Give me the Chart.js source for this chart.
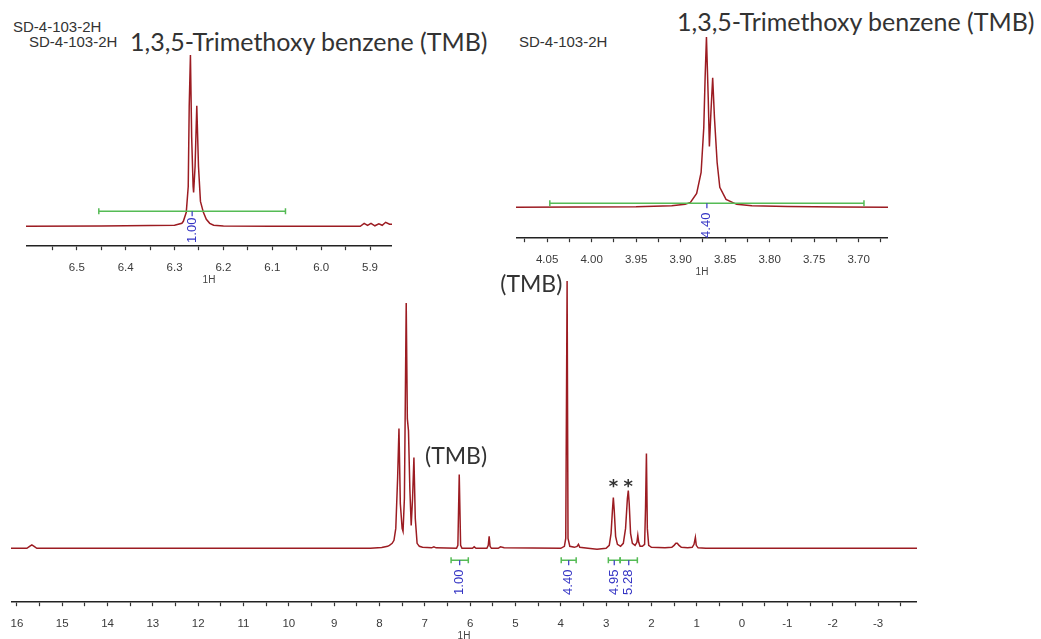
<!DOCTYPE html>
<html>
<head>
<meta charset="utf-8">
<script src="https://cdn.jsdelivr.net/npm/chart.js@4/dist/chart.umd.min.js"></script>
<style>
  html, body { margin: 0; padding: 0; background: #fff; overflow: hidden; }
  body { width: 1041px; height: 639px; position: relative; }
  canvas { position: absolute; }
  .lbl { position: absolute; white-space: nowrap; color: #333; }
  .sd { font-family: "Liberation Sans Narrow", "Liberation Sans", Arial, sans-serif; font-size: 15px; line-height: 15px; color: #333; }
  .ttl { font-family: Lato, "Open Sans", sans-serif; font-size: 25px; line-height: 25px; color: #333; }
</style>
</head>
<body>
<div class="lbl sd" style="left:13px; top:19px;">SD-4-103-2H</div>
<div class="lbl sd" style="left:29px; top:34px;">SD-4-103-2H</div>
<div class="lbl ttl" style="left:130px; top:29px;">1,3,5-Trimethoxy benzene (TMB)</div>
<div class="lbl sd" style="left:519px; top:34px;">SD-4-103-2H</div>
<div class="lbl ttl" style="left:677px; top:9px;">1,3,5-Trimethoxy benzene (TMB)</div>

<canvas id="insetLeft" width="366" height="233" style="left:26px; top:50px;"></canvas>
<canvas id="insetRight" width="372" height="243" style="left:516px; top:32px;"></canvas>
<canvas id="mainSpec" width="906" height="377" style="left:11px; top:262px;"></canvas>

<script>
// ========================
// DATA (ppm, intensity)
// ========================
const mainPpm = [16.13, 15.78, 15.72, 15.67, 15.62, 15.56,
  8.2, 7.95, 7.82, 7.78, 7.72, 7.68, 7.64, 7.6, 7.57, 7.54, 7.5, 7.48, 7.45, 7.41, 7.385, 7.36, 7.33, 7.3, 7.27, 7.24, 7.21, 7.17, 7.12, 7.05,
  6.85, 6.8, 6.75, 6.3, 6.27, 6.24, 6.21, 6.18, 5.95, 5.91, 5.87, 5.63, 5.6, 5.58, 5.56, 5.53, 5.38, 5.33, 5.25,
  4.0, 3.92, 3.89, 3.86, 3.84, 3.8, 3.7, 3.64, 3.61, 3.58, 3.4, 3.2, 3.0,
  2.93, 2.89, 2.86, 2.84, 2.82, 2.79, 2.75, 2.68, 2.62, 2.57, 2.53, 2.51, 2.49, 2.46, 2.42, 2.36, 2.32, 2.3, 2.28, 2.25,
  2.2, 2.15, 2.13, 2.11, 2.09, 2.06, 2.0, 1.7, 1.55, 1.5, 1.46, 1.43, 1.39, 1.34, 1.2, 1.1, 1.06, 1.03, 1.01, 0.97, 0.8, -3.86];
const mainInt = [0, 0, 2, 3.5, 2, 0,
  0, 0.8, 2, 3, 5, 8, 20, 70, 120, 45, 20, 17, 50, 246, 130, 118, 60, 23, 50, 91, 30, 5, 2, 1,
  0.5, 1.5, 0.5, 0, 3, 74, 3, 0, 0, 1.5, 0, 0, 3, 12, 2, 0, 0, 1.5, 0.5,
  0, 2, 10, 268, 10, 2, 1, 2, 4, 1, 0, -1, 0,
  3, 15, 38, 51, 38, 12, 4, 2, 5, 20, 50, 58, 45, 15, 5, 3, 6, 13, 6, 2,
  2, 4, 40, 95, 20, 3, 1, 0.5, 1, 3, 5, 5, 3, 1, 0.5, 1, 4, 11, 3, 0.5, 0, 0];

const leftPpm = [6.604, 6.45, 6.35, 6.3, 6.285, 6.282, 6.276, 6.272, 6.27, 6.2675, 6.265, 6.262, 6.261, 6.258, 6.2545,
  6.251, 6.247, 6.241, 6.235, 6.228, 6.22, 6.2, 6.1, 5.92, 5.912, 5.905, 5.898, 5.89, 5.882, 5.875, 5.868, 5.86, 5.855];
const leftInt = [0, 0.3, 0.8, 1, 3, 5, 14, 40, 120, 172, 90, 40, 34, 60, 121,
  60, 25, 14, 7, 3, 1, 0.3, 0, 0, 3, 1, 3, 0.5, 2.5, 1, 4, 2, 2];

const rightPpm = [4.085, 3.95, 3.91, 3.895, 3.889, 3.882, 3.877, 3.874, 3.8725, 3.871, 3.869, 3.8677, 3.866, 3.864,
  3.862, 3.859, 3.856, 3.849, 3.837, 3.82, 3.78, 3.72, 3.667];
const rightInt = [0, 0.5, 1.5, 3, 5, 14, 35, 80, 130, 171, 110, 61, 95, 130,
  90, 45, 20, 8, 3, 1.5, 0.7, 0.3, 0];

// ticks + labels
const mainTicks = [16, 15.5, 15, 14.5, 14, 13.5, 13, 12.5, 12, 11.5, 11, 10.5, 10, 9.5, 9, 8.5, 8, 7.5, 7, 6.5,
  6, 5.5, 5, 4.5, 4, 3.5, 3, 2.5, 2, 1.5, 1, 0.5, 0, -0.5, -1, -1.5, -2, -2.5, -3, -3.5];
const mainLabels = [16, 15, 14, 13, 12, 11, 10, 9, 8, 7, 6, 5, 4, 3, 2, 1, 0, -1, -2, -3];
const leftTicks = [6.55, 6.5, 6.45, 6.4, 6.35, 6.3, 6.25, 6.2, 6.15, 6.1, 6.05, 6.0, 5.95, 5.9];
const leftLabels = [6.5, 6.4, 6.3, 6.2, 6.1, 6.0, 5.9];
const rightTicks = [4.075, 4.05, 4.025, 4.0, 3.975, 3.95, 3.925, 3.9, 3.875, 3.85, 3.825, 3.8, 3.775, 3.75, 3.725, 3.7, 3.675];
const rightLabels = [4.05, 4.0, 3.95, 3.9, 3.85, 3.8, 3.75, 3.7];

// integrals: from, to, label
const mainIntegrals = [[6.42, 6.04, "1.00"], [3.99, 3.66, "4.40"], [2.95, 2.69, "4.95"], [2.69, 2.31, "5.28"]];
const leftIntegrals = [[6.455, 6.073, "1.00"]];
const rightIntegrals = [[4.047, 3.694, "4.40"]];

// text annotations: ppm, intensity, text
const mainNotes = [[6.31, 92, "(TMB)"], [4.65, 264, "(TMB)"], [2.84, 61, "*"], [2.51, 61, "*"]];

// ========================
// STYLE
// ========================
const SPEC_RED = "#9c1c22";
const INT_GREEN = "#55bb55";
const INT_BLUE = "#3434c4";
const TICK_FONT = "'Liberation Sans Narrow', 'Liberation Sans', sans-serif";

function marksPlugin(integrals, notes, opt) {
  return {
    id: "nmrMarks",
    afterDatasetsDraw(chart) {
      const ctx = chart.ctx;
      const xs = chart.scales.x, ys = chart.scales.y;
      ctx.save();
      integrals.forEach(it => {
        const x1 = xs.getPixelForValue(it[0]);
        const x2 = xs.getPixelForValue(it[1]);
        const y = ys.getPixelForValue(opt.level);
        const mid = (x1 + x2) / 2;
        ctx.strokeStyle = INT_GREEN;
        ctx.lineWidth = 1.5;
        ctx.beginPath();
        ctx.moveTo(x1, y); ctx.lineTo(x2, y);
        ctx.moveTo(x1, y - 3); ctx.lineTo(x1, y + 3);
        ctx.moveTo(x2, y - 3); ctx.lineTo(x2, y + 3);
        ctx.stroke();
        const ly = ys.getPixelForValue(opt.labelLevel);
        ctx.strokeStyle = INT_BLUE;
        ctx.lineWidth = 1.2;
        ctx.beginPath();
        ctx.moveTo(mid, y); ctx.lineTo(mid, y + 5);
        ctx.stroke();
        ctx.save();
        ctx.translate(mid, ly);
        ctx.rotate(-Math.PI / 2);
        ctx.fillStyle = INT_BLUE;
        ctx.font = opt.labelFont;
        ctx.textAlign = "center";
        ctx.textBaseline = "middle";
        ctx.fillText(it[2], 0, 0);
        ctx.restore();
      });
      notes.forEach(n => {
        ctx.fillStyle = "#333";
        ctx.font = n[2] === "*" ? "bold 18px 'DejaVu Sans', sans-serif" : "23px Lato, 'Open Sans', sans-serif";
        ctx.textAlign = "center";
        ctx.textBaseline = "middle";
        ctx.fillText(n[2], xs.getPixelForValue(n[0]), ys.getPixelForValue(n[1]));
      });
      ctx.restore();
    }
  };
}

function makeSpectrum(id, ppm, inten, range, yRange, ticks, labels, digits, integrals, notes, opt) {
  const ctx = document.getElementById(id).getContext("2d");
  // ascending order so the edge label padding stays zero
  const tickValues = ticks.slice().sort((a, b) => a - b);
  return new Chart(ctx, {
    type: "line",
    data: {
      datasets: [{
        data: ppm.map((p, i) => ({ x: p, y: inten[i] })),
        borderColor: SPEC_RED,
        borderWidth: 1.5,
        pointRadius: 0,
        tension: 0,
        fill: false
      }]
    },
    options: {
      responsive: false,
      animation: false,
      devicePixelRatio: 1,
      layout: { padding: { top: opt.padTop || 0, left: 0, right: 0, bottom: 0 } },
      plugins: { legend: { display: false }, tooltip: { enabled: false } },
      scales: {
        x: {
          type: "linear",
          reverse: true,
          min: range[0],
          max: range[1],
          afterBuildTicks: (scale) => { scale.ticks = tickValues.map(v => ({ value: v })); },
          ticks: {
            autoSkip: false,
            maxRotation: 0,
            minRotation: 0,
            padding: 11,
            color: "#3a3a3a",
            font: { family: TICK_FONT, size: 11.5 },
            callback: (v) => labels.includes(v) ? v.toFixed(digits) : ""
          },
          grid: { display: true, drawOnChartArea: false, drawTicks: true, tickLength: 4, tickColor: "#333", tickWidth: 1.2 },
          border: { display: true, color: "#222", width: 1.6 },
          title: { display: true, text: "1H", color: "#444", font: { family: TICK_FONT, size: 10 }, padding: { top: -12, bottom: -3 } }
        },
        y: { display: false, min: yRange[0], max: yRange[1] }
      }
    },
    plugins: [marksPlugin(integrals, notes, opt)]
  });
}

makeSpectrum("mainSpec", mainPpm, mainInt, [-3.86, 16.13], [-54, 269], mainTicks, mainLabels, 0,
  mainIntegrals, mainNotes, { level: -12, labelLevel: -34, padTop: 18, labelFont: "13px 'Liberation Sans', sans-serif" });
makeSpectrum("insetLeft", leftPpm, leftInt, [5.855, 6.604], [-20, 177], leftTicks, leftLabels, 1,
  leftIntegrals, [], { level: 15, labelLevel: -4, labelFont: "13px 'Liberation Sans', sans-serif" });
makeSpectrum("insetRight", rightPpm, rightInt, [3.667, 4.085], [-31, 176], rightTicks, rightLabels, 2,
  rightIntegrals, [], { level: 4, labelLevel: -18, labelFont: "13px 'Liberation Sans', sans-serif" });
</script>
</body>
</html>
